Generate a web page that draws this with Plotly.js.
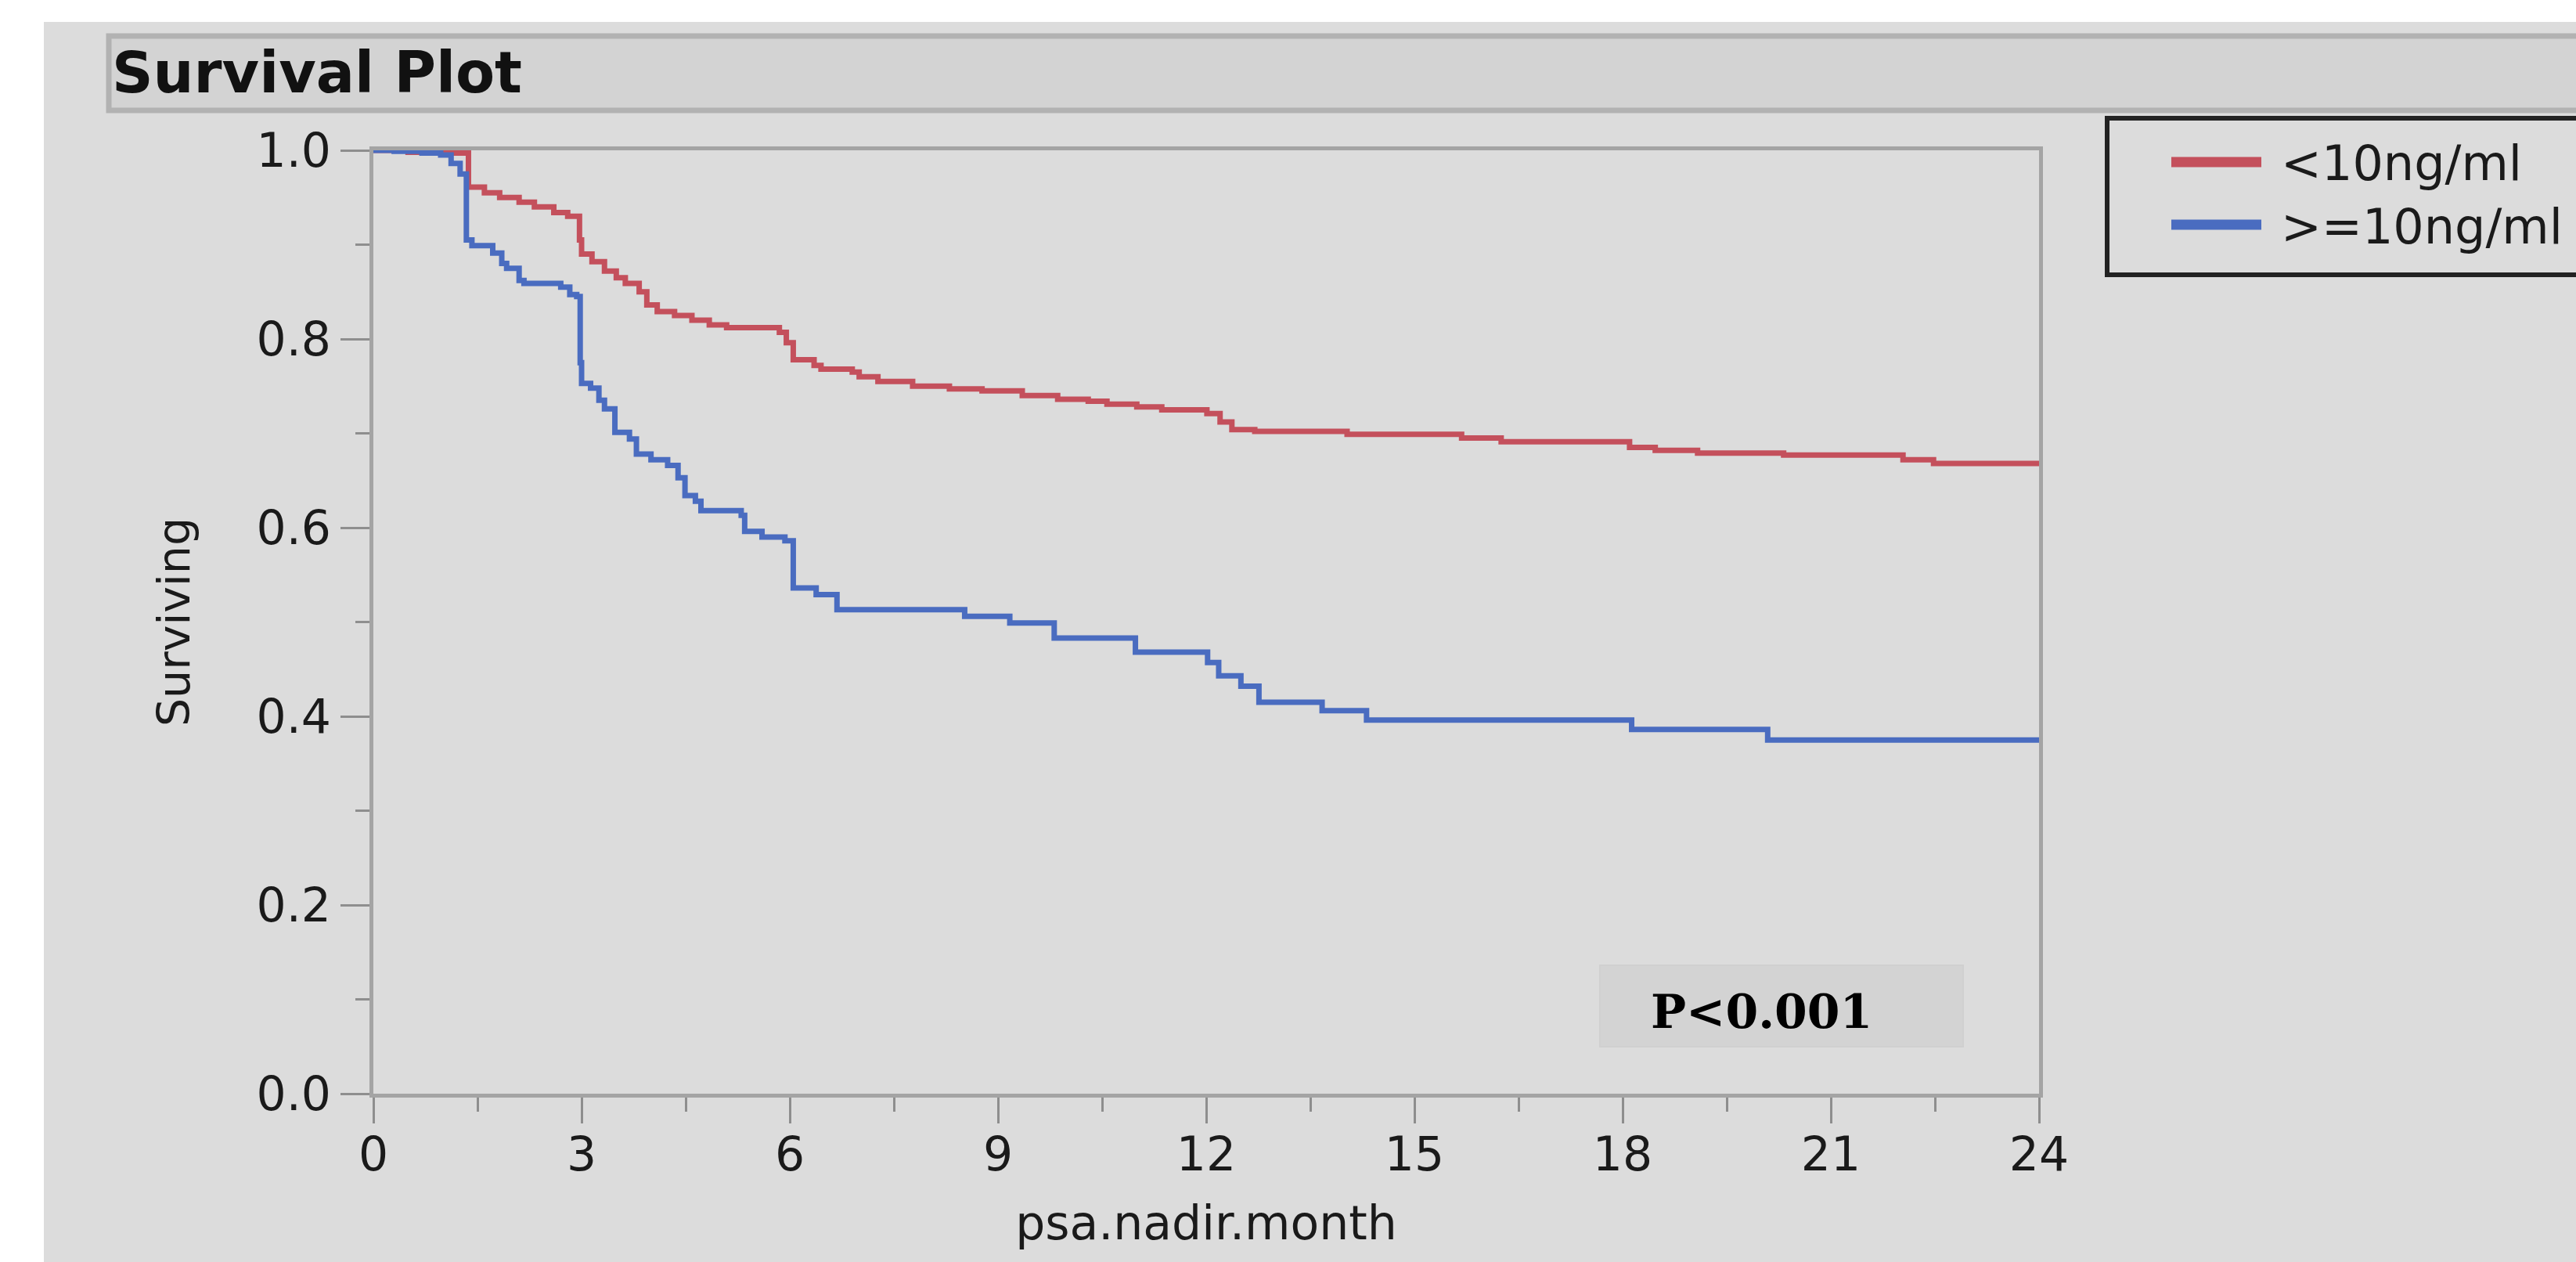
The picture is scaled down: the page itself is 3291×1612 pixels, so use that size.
<!DOCTYPE html>
<html>
<head>
<meta charset="utf-8">
<script src="https://cdn.plot.ly/plotly-3.0.1.min.js"></script>
<style>html,body{margin:0;padding:0;background:#fff;}#chart{width:3291px;height:1612px;}</style>
</head>
<body>
<div id="chart"></div>
<script>
// ---- data ----
const seriesNames = ["&lt;10ng/ml", "&gt;=10ng/ml"];
const seriesColors = ["#c4505c", "#4a6cc0"];

const lowTime = [0, 0.5, 1.0, 1.37, 1.6, 1.82, 2.1, 2.32, 2.6, 2.8, 2.97, 3.0, 3.15, 3.33, 3.5, 3.63, 3.83, 3.94, 4.09, 4.34, 4.59, 4.84, 5.09, 5.85, 5.95, 6.05, 6.35, 6.45, 6.9, 7.0, 7.27, 7.77, 8.3, 8.77, 9.35, 9.86, 10.3, 10.57, 11.0, 11.36, 12.01, 12.2, 12.37, 12.7, 14.03, 15.68, 16.25, 18.1, 18.47, 19.08, 20.32, 22.04, 22.48, 24];
const lowSurv = [1.0, 0.998, 0.997, 0.961, 0.955, 0.950, 0.945, 0.940, 0.934, 0.930, 0.905, 0.890, 0.882, 0.872, 0.865, 0.859, 0.850, 0.836, 0.829, 0.825, 0.820, 0.815, 0.812, 0.807, 0.796, 0.778, 0.772, 0.768, 0.765, 0.760, 0.755, 0.750, 0.747, 0.745, 0.740, 0.736, 0.734, 0.731, 0.728, 0.725, 0.721, 0.712, 0.704, 0.702, 0.699, 0.695, 0.691, 0.685, 0.682, 0.679, 0.677, 0.672, 0.668, 0.667];

const highTime = [0, 0.3, 0.7, 0.97, 1.12, 1.25, 1.34, 1.42, 1.72, 1.85, 1.92, 2.1, 2.17, 2.7, 2.83, 2.93, 2.98, 3.0, 3.13, 3.25, 3.33, 3.48, 3.69, 3.79, 4.0, 4.24, 4.39, 4.49, 4.64, 4.72, 5.30, 5.35, 5.60, 5.93, 6.05, 6.38, 6.68, 8.52, 9.17, 9.81, 10.98, 12.02, 12.18, 12.5, 12.76, 13.67, 14.31, 18.13, 20.09, 24];
const highSurv = [1.0, 0.999, 0.997, 0.995, 0.986, 0.975, 0.905, 0.899, 0.891, 0.880, 0.875, 0.862, 0.859, 0.855, 0.847, 0.845, 0.775, 0.753, 0.748, 0.735, 0.726, 0.701, 0.694, 0.678, 0.672, 0.666, 0.653, 0.634, 0.628, 0.618, 0.613, 0.596, 0.590, 0.586, 0.536, 0.529, 0.513, 0.506, 0.499, 0.483, 0.468, 0.457, 0.443, 0.432, 0.415, 0.406, 0.396, 0.386, 0.375, 0.375];

const xTickVals = [0, 3, 6, 9, 12, 15, 18, 21, 24];
const yTickVals = [0, 0.2, 0.4, 0.6, 0.8, 1.0];
const yTickText = ["0.0", "0.2", "0.4", "0.6", "0.8", "1.0"];
const pValueText = "P&lt;0.001";

// ---- figure ----
const W = 3291, H = 1612;
const L = 477, R = 2605, T = 192, B = 1397;
const px = p => (p - L) / (R - L);
const py = q => (B - q) / (B - T);

const font = "DejaVu Sans, Verdana, sans-serif";
const axisGray = "#a4a4a4";
const tickGray = "#8e8e8e";

const traces = [
  {x: lowTime, y: lowSurv, name: seriesNames[0], type: "scatter", mode: "lines",
   line: {shape: "hv", color: seriesColors[0], width: 7}},
  {x: highTime, y: highSurv, name: seriesNames[1], type: "scatter", mode: "lines",
   line: {shape: "hv", color: seriesColors[1], width: 7}}
];

// legend drawn as a framed key at the reference position
const legendRows = [207, 287];
const legendShapes = legendRows.map((q, i) => ({
  type: "line", xref: "paper", yref: "paper",
  x0: px(2774), x1: px(2889), y0: py(q), y1: py(q),
  line: {color: seriesColors[i], width: 13}
}));
const legendTexts = legendRows.map((q, i) => ({
  text: seriesNames[i], xref: "paper", yref: "paper",
  x: px(2912), y: py(q + 2), xanchor: "left", yanchor: "middle", showarrow: false,
  font: {family: font, size: 62, color: "#1a1a1a"}
}));

const layout = {
  width: W, height: H,
  paper_bgcolor: "#ffffff",
  plot_bgcolor: "rgba(0,0,0,0)",
  margin: {l: L, r: W - R, t: T, b: H - B, pad: 0},
  showlegend: false,
  title: {
    text: "Survival Plot",
    x: 143 / W, xanchor: "left", xref: "container",
    y: 1 - 92 / H, yanchor: "middle", yref: "container",
    font: {family: font, size: 73, weight: "bold", color: "#111111"}
  },
  xaxis: {
    range: [0, 24], tickvals: xTickVals, ticktext: xTickVals.map(String),
    showgrid: false, zeroline: false,
    showline: true, linecolor: axisGray, linewidth: 5, mirror: true,
    ticks: "outside", ticklen: 33, tickwidth: 3, tickcolor: tickGray,
    ticklabelstandoff: -12,
    minor: {dtick: 1.5, tick0: 0, ticks: "outside", ticklen: 18, tickwidth: 3, tickcolor: tickGray, showgrid: false},
    tickfont: {family: font, size: 60, color: "#1a1a1a"},
    title: {text: "psa.nadir.month", standoff: 34, font: {family: font, size: 60, color: "#1a1a1a"}}
  },
  yaxis: {
    range: [0, 1], tickvals: yTickVals, ticktext: yTickText,
    showgrid: false, zeroline: false,
    showline: true, linecolor: axisGray, linewidth: 5, mirror: true,
    ticks: "outside", ticklen: 37, tickwidth: 3, tickcolor: tickGray,
    minor: {dtick: 0.1, tick0: 0, ticks: "outside", ticklen: 18, tickwidth: 3, tickcolor: tickGray, showgrid: false},
    tickfont: {family: font, size: 60, color: "#1a1a1a"},
    title: {text: "Surviving", standoff: 68, font: {family: font, size: 57, color: "#1a1a1a"}}
  },
  shapes: [
    // gray panel
    {type: "rect", xref: "paper", yref: "paper", layer: "below",
     x0: px(56), x1: px(3400), y0: py(1700), y1: py(28),
     fillcolor: "#dcdcdc", line: {width: 0}},
    // title bar
    {type: "rect", xref: "paper", yref: "paper", layer: "below",
     x0: px(139), x1: px(3400), y0: py(141), y1: py(46),
     fillcolor: "#d3d3d3", line: {color: "#b2b2b2", width: 7}},
    // p-value box
    {type: "rect", xref: "paper", yref: "paper", layer: "below",
     x0: px(2044), x1: px(2508), y0: py(1337), y1: py(1233),
     fillcolor: "#d3d3d3", line: {color: "#d0d0d0", width: 2}},
    // legend frame
    {type: "rect", xref: "paper", yref: "paper", layer: "above",
     x0: px(2692), x1: px(3400), y0: py(351), y1: py(151),
     fillcolor: "rgba(0,0,0,0)", line: {color: "#222222", width: 6}}
  ].concat(legendShapes),
  annotations: [
    {text: pValueText, xref: "paper", yref: "paper", x: px(2250), y: py(1292),
     xanchor: "center", yanchor: "middle", showarrow: false,
     font: {family: "DejaVu Serif, Liberation Serif, serif", size: 60, weight: "bold", color: "#000000"}}
  ].concat(legendTexts)
};

Plotly.newPlot("chart", traces, layout, {staticPlot: true, displayModeBar: false});
</script>
</body>
</html>
